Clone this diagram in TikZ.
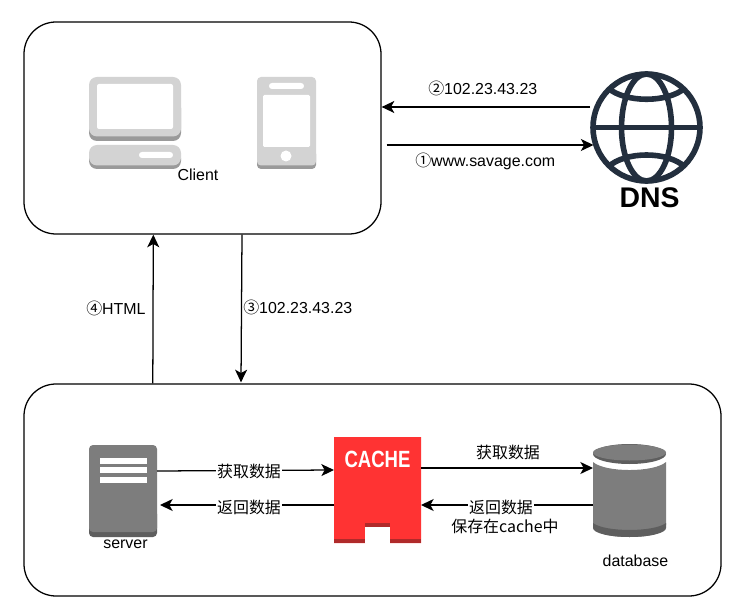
\documentclass[tikz,border=0pt]{standalone}
\usepackage{fontspec}
\setmainfont{Liberation Sans}
\newfontfamily\cjk{Noto Sans CJK SC}
\newfontfamily\narrowcache[FakeStretch=0.79]{Liberation Sans Bold}
\usetikzlibrary{arrows.meta,calc}
\definecolor{lightgrey}{HTML}{D3D3D3}
\definecolor{midgrey}{HTML}{9A9A9A}
\definecolor{srvgrey}{HTML}{7D7D7D}
\definecolor{srvdark}{HTML}{5E5E5E}
\definecolor{cachered}{HTML}{FF3333}
\definecolor{cachedark}{HTML}{B02A2A}
\definecolor{globe}{HTML}{232F3E}
\tikzset{
  x=0.75pt,y=-0.75pt,
  bigbox/.style={draw=black,line width=0.95pt,rounded corners=24pt,inner sep=0pt},
  icon/.style={inner sep=0pt,outer sep=0pt},
  conn/.style={draw=black,line width=0.95pt,-{Stealth[length=9.5pt,width=9pt,inset=2.5pt]}},
  lbl/.style={inner sep=0pt,font=\fontsize{11.95pt}{14pt}\selectfont},
  lblw/.style={lbl,fill=white,inner xsep=0.5pt,inner ysep=0.5pt},
}
\begin{document}
\begin{tikzpicture}
\useasboundingbox (0,0) rectangle (745,609);
\fill[white] (0,0) rectangle (745,609);
% containers
\node[bigbox,minimum width=267.75pt,minimum height=159pt] (client) at (202.5,128) {};
\node[bigbox,minimum width=522.75pt,minimum height=159pt] (backend) at (372.5,490) {};
% icon anchor nodes
\node[icon,minimum width=69pt,minimum height=69pt] (pc) at (135,123) {};
\node[icon,minimum width=44.25pt,minimum height=69pt] (phone) at (286.5,123) {};
\node[icon,minimum width=84.75pt,minimum height=84pt] (dns) at (646.5,127.5) {};
\node[icon,minimum width=51pt,minimum height=69pt] (server) at (123,491) {};
\node[icon,minimum width=65.25pt,minimum height=79.5pt] (cache) at (377.5,490) {};
\node[icon,minimum width=54.75pt,minimum height=69.75pt] (db) at (629.5,490.5) {};
% PC
\fill[midgrey,rounded corners=6pt] (89,100) rectangle (181,141);
\fill[lightgrey,rounded corners=6pt] (89,77) rectangle (181,136.5);
\fill[white,rounded corners=1.5pt] (97,84) rectangle (173,129);
\fill[midgrey,rounded corners=6pt] (89,150) rectangle (181,169);
\fill[lightgrey,rounded corners=6pt] (89,145) rectangle (181,165.5);
\fill[white,rounded corners=2.2pt] (139,152) rectangle (173,158);
% phone
\fill[midgrey,rounded corners=3pt] (257,150) rectangle (316,169);
\fill[lightgrey,rounded corners=3pt] (257,77) rectangle (316,165.5);
\fill[white,rounded corners=2.2pt] (269,83) rectangle (304,89);
\fill[white,rounded corners=1pt] (263,95) rectangle (310,147);
\fill[white] (286,156) circle[radius=5.5];
\node[lbl,anchor=center] (clientlabel) at (198,175) {Client};
% globe
\begin{scope}[draw=globe,line width=4.2pt]
\draw (646.5,127.5) circle[radius=53.5];
\draw (646.5,127.5) ellipse[x radius=25,y radius=53.5];
\draw (593,127.5) -- (700,127.5);
\draw (608,88) .. controls (625,103) and (668,103) .. (685,88);
\draw (608,167) .. controls (625,151) and (668,151) .. (685,167);
\end{scope}
\node[inner sep=0pt,font=\fontsize{21.3pt}{24pt}\selectfont\bfseries] (dnslabel) at (649.5,198) {DNS};
% server
\fill[srvdark,rounded corners=3pt] (89,510) rectangle (157,537);
\fill[srvgrey,rounded corners=3pt] (89,445) rectangle (157,532);
\fill[white] (100,458) rectangle (147,464);
\fill[white] (100,467) rectangle (147,473);
\fill[white] (100,477) rectangle (147,482.5);
\node[lbl,fill=white,inner xsep=0pt,inner ysep=1pt] (serverlabel) at (125.5,544) {server};
% cache
\fill[cachered] (334,437) -- (421,437) -- (421,543) -- (390,543) -- (390,523) -- (365,523) -- (365,543) -- (334,543) -- cycle;
\fill[cachedark] (334,539) rectangle (365,543);
\fill[cachedark] (390,539) rectangle (421,543);
\fill[cachedark] (365,523) rectangle (390,527);
\fill[white] (365,527) rectangle (390,543);
\node[inner sep=0pt,text=white,font=\fontsize{17.6pt}{20pt}\selectfont\narrowcache] (cachelabel) at (377.5,459.5) {CACHE};
% database
\fill[srvgrey] (593,462) .. controls (605,472.7) and (654,472.7) .. (666,462) -- (666,525) .. controls (666,533) and (650,537) .. (629.5,537) .. controls (609,537) and (593,533) .. (593,525) -- cycle;
\fill[srvdark] (593,523) .. controls (605,532.3) and (654,532.3) .. (666,523) -- (666,528) .. controls (666,533) and (650,537) .. (629.5,537) .. controls (609,537) and (593,533) .. (593,528) -- cycle;
\fill[srvdark] (629.5,454) ellipse[x radius=36.5,y radius=10];
\fill[srvgrey] (629.5,452.5) ellipse[x radius=36.5,y radius=8];
\node[lbl] (dblabel) at (635.5,561) {database};
% connectors
\coordinate (c1start) at ($(client.east |- 0,145)+(5,0)$);
\draw[conn] (dns.west |- 0,107) -- (client.east |- 0,107);
\draw[conn] (c1start) -- ($(dns.west |- 0,145)+(3.5,0)$);
\draw[conn] (backend.north -| 152.8,0) -- (client.south -| 153.3,0);
\draw[conn] (client.south -| 242,0) -- ($(backend.north -| 241,0)+(0,-1)$);
\draw[conn] (server.east |- 0,471) -- (cache.west |- 0,470);
\draw[conn] (cache.west |- 0,505) -- ($(server.east |- 0,505)+(3,0)$);
\draw[conn] (cache.east |- 0,468) -- (db.west |- 0,468);
\draw[conn] (db.west |- 0,505) -- (cache.east |- 0,505);
% labels
\node[lbl,anchor=west] (l2) at (428,88) {\cjk ②\normalfont\fontsize{11.95pt}{14pt}\selectfont 102.23.43.23};
\node[lbl,anchor=west] (l1) at (415,161) {\cjk ①\normalfont www.savage.com};
\node[lbl,anchor=west] (l4) at (86,308) {\cjk ④\normalfont HTML};
\node[lbl,anchor=west] (l3) at (243,307) {\cjk ③\normalfont\fontsize{11.95pt}{14pt}\selectfont 102.23.43.23};
\node[lblw] (g1) at (249,471) {\cjk 获取数据};
\node[lblw] (r1) at (249,507) {\cjk 返回数据};
\node[lbl] (g2) at (508,452) {\cjk 获取数据};
\node[lblw] (r2) at (501,507) {\cjk 返回数据};
\node[lbl] (r3) at (505,526) {\cjk 保存在cache中};
\end{tikzpicture}
\end{document}
